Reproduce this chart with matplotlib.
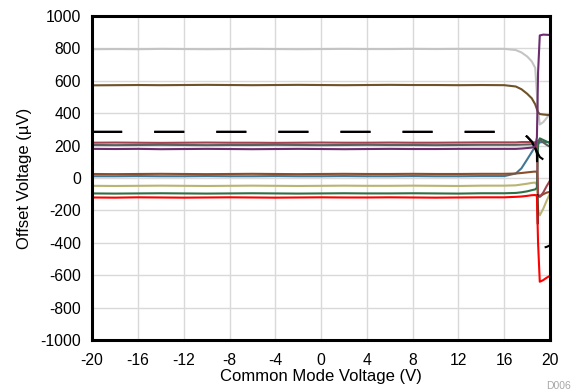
import matplotlib
matplotlib.use("Agg")
import matplotlib.pyplot as plt

plt.rcParams['font.family'] = ['Liberation Sans', 'DejaVu Sans']

# Common-mode voltage sweep (V)
vcm = [-20, -18, -16, -14, -12, -10, -8, -6, -4, -2, 0, 2, 4, 6, 8, 10, 12, 14, 16,
       17, 17.5, 18, 18.4, 18.7, 18.85, 18.95, 19.1, 19.4, 19.7, 20]

# Offset voltage per unit (uV)
vos_lightgray = [795, 796, 795, 797, 796, 795, 796, 797, 796, 795, 796, 797, 796, 796, 797, 796, 797, 797, 797,
                 790, 775, 750, 720, 680, 520, 420, 330, 345, 370, 400]
vos_darkbrown = [572, 573, 574, 573, 574, 575, 574, 573, 574, 575, 574, 573, 574, 575, 574, 574, 573, 574, 573,
                 565, 548, 520, 492, 455, 425, 405, 395, 392, 390, 388]
vos_blackA = [285, 285, 285, 285, 285, 285, 285, 285, 285, 285, 285, 285, 285, 285, 285, 285, 285, 285, 285,
              284, 278, 255, 225, 185, 165, 150, 130, 115, 102, 93]
vos_blackB = [285, 285, 285, 285, 285, 285, 285, 285, 285, 285, 285, 285, 285, 285, 285, 285, 285, 285, 285,
              284, 278, 255, 225, 185, 150, -440, -440, -430, -425, -415]
vos_maroon = [218, 219, 218, 217, 218, 219, 218, 218, 217, 218, 219, 218, 218, 219, 218, 218, 219, 220, 220,
              220, 222, 222, 222, 220, 210, -110, -115, -90, -50, -15]
vos_darkgray = [204, 203, 204, 205, 204, 203, 204, 204, 205, 204, 203, 204, 205, 204, 204, 203, 204, 205, 205,
                205, 206, 207, 208, 212, 220, 232, 235, 220, 205, 193]
vos_purple = [180, 179, 180, 178, 179, 180, 179, 178, 179, 180, 179, 178, 179, 180, 179, 179, 180, 180, 180,
              180, 182, 185, 188, 195, 250, 650, 880, 885, 884, 883]
vos_sienna = [25, 24, 25, 26, 25, 24, 25, 26, 25, 24, 25, 26, 25, 25, 26, 25, 25, 26, 26,
              28, 31, 35, 38, 40, 38, -100, -115, -100, -90, -85]
vos_blue = [11, 11, 12, 11, 11, 12, 11, 11, 12, 11, 11, 12, 11, 11, 12, 11, 11, 12, 12,
            28, 60, 115, 160, 195, 212, 215, 220, 222, 222, 222]
vos_khaki = [-48, -49, -48, -47, -48, -49, -48, -47, -48, -49, -48, -47, -48, -48, -47, -48, -49, -47, -47,
             -45, -40, -35, -30, -28, -40, -200, -230, -190, -140, -95]
vos_green = [-95, -96, -95, -94, -95, -96, -95, -94, -95, -96, -95, -94, -95, -95, -94, -95, -96, -94, -94,
             -92, -88, -82, -75, -70, -60, 200, 245, 235, 225, 215]
vos_red = [-120, -121, -119, -120, -121, -120, -119, -120, -121, -120, -119, -120, -120, -119, -120, -121, -120, -119, -119,
           -116, -114, -110, -106, -105, -110, -400, -640, -630, -615, -603]

xticks = [-20, -16, -12, -8, -4, 0, 4, 8, 12, 16, 20]
yticks = [-1000, -800, -600, -400, -200, 0, 200, 400, 600, 800, 1000]

fig = plt.figure(figsize=(5.76, 3.9), dpi=100)
ax = fig.add_axes([0.16, 0.128, 0.795, 0.831])

lw = 1.5
solid_series = [
    (vos_lightgray, '#c4c4c4'),
    (vos_darkbrown, '#6e5228'),
    (vos_blue, '#3f7795'),
    (vos_sienna, '#8a4e2c'),
    (vos_khaki, '#b9b472'),
    (vos_green, '#2f6f45'),
    (vos_maroon, '#a3434f'),
    (vos_darkgray, '#5e5e5e'),
]
for vals, col in solid_series:
    ax.plot(vcm, vals, color=col, lw=lw, solid_joinstyle='round')

for vals in (vos_blackA, vos_blackB):
    line, = ax.plot(vcm, vals, color='black', lw=lw)
    line.set_dashes((14.4, 15.4))

ax.plot(vcm, vos_red, color='#ff0000', lw=lw)
ax.plot(vcm, vos_purple, color='#6b2d6e', lw=lw)

ax.set_xlim(-20, 20)
ax.set_ylim(-1000, 1000)
ax.set_xticks(xticks)
ax.set_yticks(yticks)
ax.set_xticklabels([str(t) for t in xticks])
ax.set_yticklabels([str(t) for t in yticks])
ax.tick_params(length=0, labelsize=11.3, colors='black')
ax.tick_params(axis='x', pad=9)
ax.tick_params(axis='y', pad=8)
ax.grid(True, color='#d9d9d9', lw=1)
ax.set_axisbelow(True)
for s in ax.spines.values():
    s.set_linewidth(2.2)
    s.set_color('black')

ax.set_xlabel('Common Mode Voltage (V)', fontsize=12, labelpad=1)
ax.set_ylabel('Offset Voltage (µV)', fontsize=12, labelpad=6)
fig.text(0.948, 0.022, 'D006', fontsize=7.5, color='#a8a8a8', ha='left', va='top')

fig.savefig('out.png', dpi=100)
